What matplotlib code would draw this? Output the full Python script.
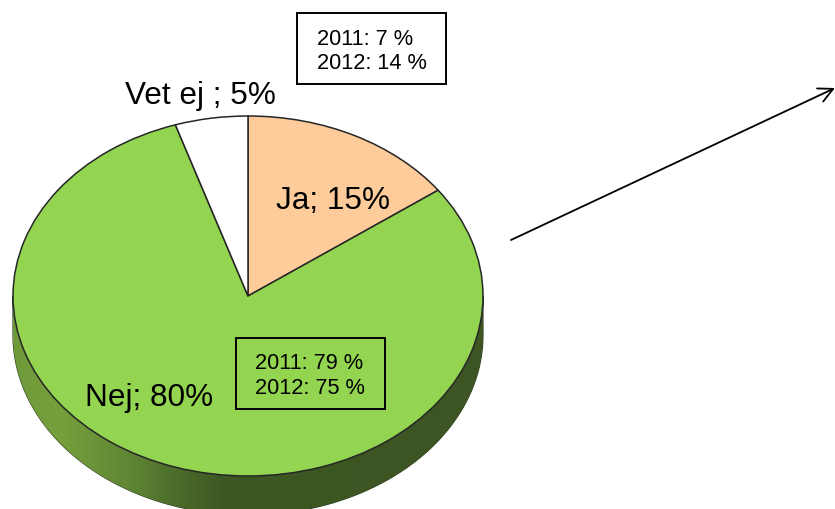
# -*- coding: utf-8 -*-
import numpy as np
import matplotlib.pyplot as plt
from matplotlib.patches import Polygon, Rectangle

plt.rcParams['font.family'] = ['Liberation Sans', 'DejaVu Sans']

labels = ['Ja', 'Nej', 'Vet ej ']
values = [15, 80, 5]
colors = ['#fdcc9a', '#93d551', '#ffffff']
notes_top = ['2011: 7 %', '2012: 14 %']
notes_bottom = ['2011: 79 %', '2012: 75 %']

W, H = 835, 509
cx, cy, rx, ry, depth = 248, 296, 235, 180, 39

fig = plt.figure(figsize=(W / 100, H / 100), dpi=100)

# bakgrund i pixlar, sidan av "kakan"
bg = fig.add_axes([0, 0, 1, 1])
bg.set_xlim(0, W)
bg.set_ylim(H, 0)
bg.axis('off')

t = np.linspace(0, np.pi, 200)
top_x = cx + rx * np.cos(t)
top_y = cy + ry * np.sin(t)
rim = np.r_[np.c_[top_x, top_y + depth], np.c_[top_x[::-1], top_y[::-1]]]
side = Polygon(rim, closed=True, facecolor='none', edgecolor='#26361a', lw=0.8)
bg.add_patch(side)

stops_x = [13, 60, 130, 180, 225, 483]
stops_r = [0x6f, 0x76, 0x5f, 0x4a, 0x3d, 0x3c]
stops_g = [0x9a, 0xa0, 0x86, 0x6a, 0x57, 0x55]
stops_b = [0x3a, 0x3c, 0x35, 0x2a, 0x23, 0x22]
xs = np.arange(cx - rx, cx + rx + 1)
grad = np.dstack([np.interp(xs, stops_x, stops_r),
                  np.interp(xs, stops_x, stops_g),
                  np.interp(xs, stops_x, stops_b)])[:, :] / 255
im = bg.imshow(grad, extent=(cx - rx, cx + rx, H, 0), aspect='auto', zorder=1)
im.set_clip_path(side)
bg.set_xlim(0, W)
bg.set_ylim(H, 0)

# sjalva cirkeln, axlarna stracks sa att den blir en ellips
ax_w, ax_h = 2.5 * rx, 2.5 * ry
ax = fig.add_axes([(cx - ax_w / 2) / W, 1 - (cy + ax_h / 2) / H, ax_w / W, ax_h / H])
ax.pie(values, colors=colors, startangle=90, counterclock=False,
       wedgeprops={'edgecolor': '#262626', 'linewidth': 1.1})
ax.set_aspect('auto')
ax.patch.set_alpha(0)

# text och rutor ovanpa
fg = fig.add_axes([0, 0, 1, 1])
fg.set_xlim(0, W)
fg.set_ylim(H, 0)
fg.axis('off')

label_pos = [(276, 209), (85, 406), (125, 104)]
for lab, val, (x, y) in zip(labels, values, label_pos):
    fg.text(x, y, f'{lab}; {val}%', fontsize=22.7, color='black', va='baseline', ha='left')

fg.add_patch(Rectangle((297, 13), 149, 71, fill=False, edgecolor='black', lw=1.4))
fg.add_patch(Rectangle((236, 338), 149, 71, fill=False, edgecolor='black', lw=1.4))

for txt, y in zip(notes_top, [45, 69]):
    fg.text(317, y, txt, fontsize=15.7, va='baseline', ha='left')
for txt, y in zip(notes_bottom, [369, 394]):
    fg.text(255, y, txt, fontsize=15.7, va='baseline', ha='left')

fg.annotate('', xy=(835, 88), xytext=(511, 240), annotation_clip=False,
            arrowprops=dict(arrowstyle='->', color='black', lw=1.3,
                            shrinkA=0, shrinkB=0, mutation_scale=26))

fig.savefig('out.png', dpi=100)
